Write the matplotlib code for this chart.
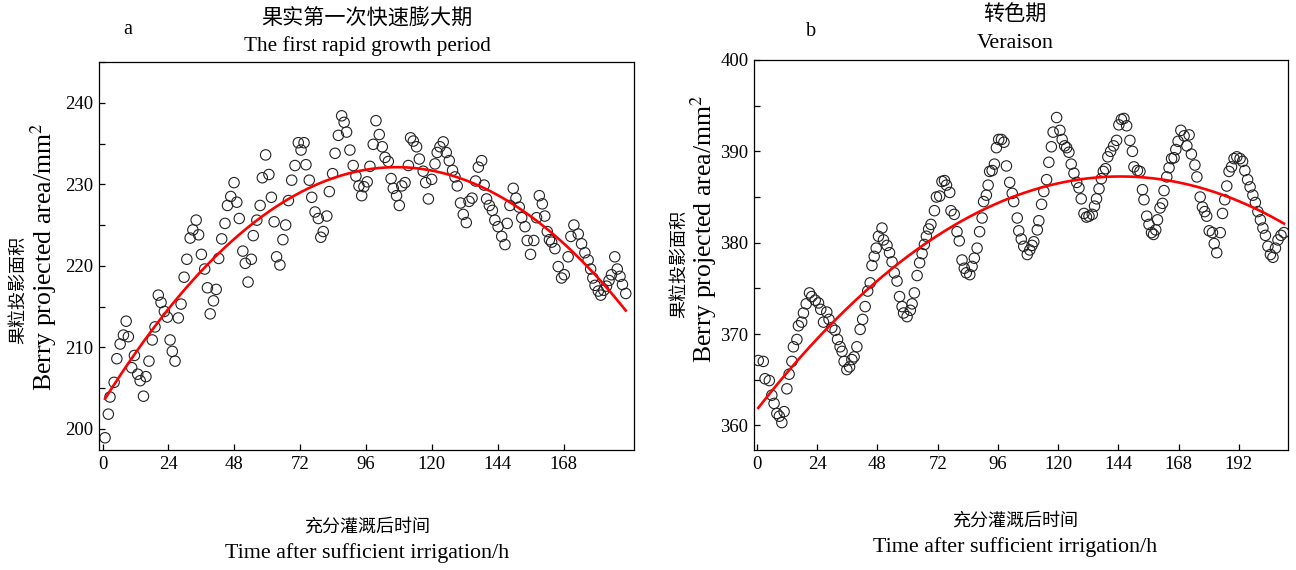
import numpy as np
import matplotlib
matplotlib.use("Agg")
import matplotlib.pyplot as plt
from matplotlib.ticker import MultipleLocator

plt.rcParams['font.family'] = ['Liberation Serif', 'Noto Sans CJK SC']
plt.rcParams['mathtext.fontset'] = 'stix'

# panel a: first rapid growth period
a_hours = [0.9, 2.1, 2.7, 4.2, 5.2, 6.4, 7.6, 8.6, 9.4, 10.6,
           11.6, 12.8, 13.7, 14.9, 15.8, 16.9, 18.1, 19.1, 20.3, 21.3,
           22.5, 23.6, 24.6, 25.4, 26.4, 27.6, 28.6, 29.7, 30.7, 31.9,
           32.9, 34.1, 35.0, 36.0, 37.2, 38.2, 39.2, 40.4, 41.4, 42.3,
           43.4, 44.6, 45.5, 46.7, 47.9, 48.9, 49.8, 51.1, 52.0, 53.0,
           54.2, 54.9, 56.2, 57.4, 58.2, 59.4, 60.6, 61.5, 62.5, 63.4,
           64.6, 65.7, 66.7, 67.7, 68.9, 70.1, 71.3, 72.3, 73.4, 74.1,
           75.3, 76.2, 77.4, 78.6, 79.5, 80.4, 81.7, 82.6, 83.8, 84.7,
           85.9, 87.1, 88.0, 88.9, 90.1, 91.3, 92.3, 93.4, 94.4, 95.2,
           96.4, 97.4, 98.6, 99.6, 100.8, 101.9, 102.9, 104.1, 105.1, 105.9,
           107.1, 108.1, 109.0, 110.2, 111.4, 112.2, 113.2, 114.4, 115.4, 116.8,
           117.7, 118.7, 119.9, 121.1, 121.9, 122.9, 124.1, 125.2, 126.3, 127.5,
           128.4, 129.2, 130.4, 131.4, 132.5, 133.5, 134.6, 135.9, 136.9, 138.1,
           139.0, 139.9, 140.9, 142.0, 142.9, 144.1, 145.4, 146.6, 147.4, 148.4,
           149.6, 150.6, 151.8, 152.7, 153.9, 154.7, 155.9, 157.1, 158.1, 159.1,
           160.2, 161.1, 162.0, 162.8, 163.6, 164.8, 166.0, 167.2, 168.2, 169.6,
           170.6, 171.7, 173.3, 174.5, 175.7, 176.9, 177.8, 178.6, 179.4, 180.6,
           181.5, 182.6, 183.6, 184.5, 185.4, 186.6, 187.5, 188.5, 189.4, 190.6]
a_area = [198.9, 201.8, 203.9, 205.7, 208.6, 210.4, 211.5, 213.2, 211.3, 207.5,
          209.0, 206.7, 205.9, 204.0, 206.4, 208.3, 210.9, 212.5, 216.4, 215.5,
          214.4, 213.7, 210.9, 209.5, 208.3, 213.6, 215.3, 218.6, 220.8, 223.4,
          224.4, 225.6, 223.8, 221.4, 219.6, 217.3, 214.1, 215.7, 217.1, 220.9,
          223.3, 225.2, 227.4, 228.5, 230.2, 227.8, 225.8, 221.8, 220.3, 218.0,
          220.8, 223.7, 225.6, 227.4, 230.8, 233.6, 231.2, 228.4, 225.4, 221.1,
          220.1, 223.2, 225.0, 228.0, 230.5, 232.3, 235.1, 234.2, 235.1, 232.4,
          230.5, 228.4, 226.6, 225.8, 223.5, 224.2, 226.1, 229.1, 231.3, 233.8,
          236.0, 238.4, 237.6, 236.4, 234.2, 232.3, 231.0, 229.8, 228.6, 229.7,
          230.3, 232.2, 234.9, 237.8, 236.1, 234.6, 233.3, 232.8, 230.7, 229.5,
          228.6, 227.4, 229.8, 230.2, 232.3, 235.7, 235.3, 234.6, 233.1, 231.6,
          230.2, 228.2, 230.6, 232.5, 233.9, 234.6, 235.2, 233.9, 232.9, 231.7,
          230.9, 229.8, 227.7, 226.3, 225.3, 227.9, 228.3, 230.4, 232.1, 232.9,
          229.9, 228.2, 227.4, 226.8, 225.6, 224.8, 223.6, 222.6, 225.2, 227.4,
          229.5, 228.3, 227.2, 225.9, 224.8, 223.1, 221.4, 223.1, 225.9, 228.6,
          227.6, 226.1, 224.2, 223.2, 222.9, 222.1, 219.9, 218.5, 218.9, 221.1,
          223.6, 225.0, 223.9, 222.7, 221.6, 220.7, 219.6, 218.5, 217.6, 216.9,
          216.4, 217.0, 217.5, 218.2, 218.9, 221.1, 219.6, 218.7, 217.7, 216.6]

# panel b: veraison
b_hours = [0.5, 2.5, 3.2, 4.9, 5.9, 6.8, 7.9, 8.9, 9.9, 10.8,
           11.9, 12.8, 13.9, 14.5, 15.9, 16.5, 17.8, 18.5, 19.6, 20.9,
           21.8, 23.2, 24.5, 25.4, 26.5, 27.8, 28.7, 29.8, 31.1, 32.1,
           33.1, 33.9, 34.7, 35.8, 36.9, 37.8, 38.7, 39.8, 41.1, 42.1,
           43.1, 44.1, 45.1, 45.8, 46.7, 47.5, 48.4, 49.8, 50.4, 51.8,
           52.8, 53.8, 54.7, 55.8, 56.8, 57.8, 58.4, 59.8, 61.1, 61.8,
           62.7, 63.8, 64.8, 65.8, 66.7, 67.5, 68.4, 69.3, 70.7, 71.5,
           72.8, 73.7, 74.7, 75.5, 76.8, 77.3, 78.6, 79.7, 80.6, 81.7,
           82.6, 83.4, 84.8, 85.7, 86.6, 87.7, 88.7, 89.7, 90.3, 91.4,
           92.1, 92.7, 93.7, 94.6, 95.4, 96.3, 97.4, 98.4, 99.4, 100.7,
           101.7, 102.3, 103.7, 104.3, 105.3, 106.3, 107.7, 108.7, 109.6, 110.3,
           111.7, 112.3, 113.4, 114.3, 115.4, 116.3, 117.3, 118.0, 119.4, 120.7,
           121.6, 122.6, 123.4, 124.3, 125.2, 126.3, 127.4, 128.3, 129.2, 130.3,
           131.3, 132.3, 133.6, 134.5, 135.3, 136.3, 137.2, 138.0, 138.9, 139.8,
           140.9, 142.1, 143.3, 144.2, 145.2, 146.2, 147.3, 148.6, 149.6, 150.2,
           151.6, 152.6, 153.6, 154.2, 155.3, 156.2, 157.2, 158.0, 158.9, 159.6,
           160.6, 161.6, 162.2, 163.3, 164.2, 165.2, 166.2, 166.9, 167.8, 168.9,
           170.2, 171.3, 172.2, 173.1, 174.5, 175.3, 176.6, 177.5, 178.4, 179.2,
           180.2, 181.5, 182.2, 183.2, 184.6, 185.5, 186.4, 187.2, 188.1, 189.1,
           190.1, 191.2, 192.5, 193.5, 194.4, 195.5, 196.5, 197.6, 198.6, 199.6,
           200.6, 201.6, 202.6, 203.6, 204.6, 205.6, 206.6, 207.6, 208.8, 210.0]
b_area = [367.1, 367.0, 365.1, 364.9, 363.3, 362.4, 361.3, 361.0, 360.3, 361.5,
          364.0, 365.6, 367.0, 368.6, 369.4, 370.9, 371.3, 372.3, 373.3, 374.5,
          374.1, 373.7, 373.4, 372.7, 371.3, 372.4, 371.6, 370.7, 370.4, 369.4,
          368.6, 368.1, 367.0, 366.1, 366.4, 367.2, 367.5, 368.6, 370.5, 371.6,
          373.0, 374.7, 375.6, 377.5, 378.5, 379.4, 380.7, 381.6, 380.3, 379.7,
          378.9, 377.9, 376.7, 375.8, 374.1, 373.0, 372.3, 371.9, 372.6, 373.3,
          374.5, 376.4, 377.8, 378.8, 379.8, 380.7, 381.5, 382.0, 383.5, 385.0,
          385.1, 386.7, 386.8, 386.3, 385.5, 383.5, 383.1, 381.2, 380.2, 378.1,
          377.2, 376.7, 376.5, 377.4, 378.3, 379.4, 381.2, 382.7, 384.5, 385.2,
          386.3, 387.8, 387.9, 388.6, 390.4, 391.3, 391.3, 391.0, 388.4, 386.6,
          385.4, 384.5, 382.7, 381.3, 380.4, 379.6, 378.7, 379.2, 379.7, 380.1,
          381.4, 382.4, 384.2, 385.6, 386.9, 388.8, 390.5, 392.1, 393.7, 392.3,
          391.3, 390.6, 390.4, 389.9, 388.6, 387.6, 386.6, 386.0, 384.8, 383.2,
          382.8, 382.9, 383.1, 384.0, 384.8, 385.9, 387.0, 387.8, 388.1, 389.4,
          390.0, 390.6, 391.2, 392.9, 393.5, 393.6, 392.8, 391.2, 390.0, 388.3,
          387.9, 387.8, 385.8, 384.7, 382.9, 382.0, 381.1, 380.9, 381.4, 382.5,
          383.8, 384.3, 385.7, 387.2, 388.2, 389.2, 389.3, 390.2, 391.1, 392.3,
          391.7, 390.6, 391.8, 389.7, 388.5, 387.2, 385.0, 383.9, 383.4, 382.9,
          381.3, 381.1, 379.9, 378.9, 381.1, 383.2, 384.7, 386.2, 387.8, 388.3,
          389.2, 389.4, 389.2, 388.9, 387.9, 386.9, 386.1, 385.2, 384.4, 383.4,
          382.5, 381.6, 380.8, 379.6, 378.7, 378.4, 379.4, 380.3, 380.8, 381.1]

W, H = 1296, 570
fig = plt.figure(figsize=(W / 100, H / 100), dpi=100)


def px_rect(x0, y0, x1, y1):
    return [x0 / W, 1 - y1 / H, (x1 - x0) / W, (y1 - y0) / H]


def panel(ax, hours, area, xlim, ylim, xticks):
    ax.scatter(hours, area, s=56, facecolors='none', edgecolors='#222222',
               linewidths=0.8, zorder=2)
    coef = np.polyfit(hours, area, 2)
    xs = np.linspace(min(hours), max(hours), 200)
    ax.plot(xs, np.polyval(coef, xs), color='#ff0000', lw=1.9, zorder=3)
    ax.set_xlim(*xlim)
    ax.set_ylim(*ylim)
    ax.set_xticks(xticks)
    ax.yaxis.set_major_locator(MultipleLocator(10))
    ax.yaxis.set_minor_locator(MultipleLocator(5))
    ax.tick_params(which='both', direction='in', length=4, width=0.9,
                   labelsize=13.5, pad=4)
    for s in ax.spines.values():
        s.set_linewidth(0.9)


ax1 = fig.add_axes(px_rect(99, 62, 634, 450))
panel(ax1, a_hours, a_area, (-1.3, 193.6), (197.4, 245.0), range(0, 169, 24))

ax2 = fig.add_axes(px_rect(754, 60, 1288, 450))
panel(ax2, b_hours, b_area, (-1.2, 211.6), (357.3, 400.0), range(0, 193, 24))

# titles and labels
fig.text(128 / W, 1 - 30 / H, 'a', ha='center', va='center', fontsize=14.5)
fig.text(367 / W, 1 - 18 / H, '果实第一次快速膨大期', ha='center', va='center', fontsize=15.2)
fig.text(367 / W, 1 - 46 / H, 'The first rapid growth period', ha='center', va='center', fontsize=15.3)
fig.text(811 / W, 1 - 31 / H, 'b', ha='center', va='center', fontsize=14.5)
fig.text(1015 / W, 1 - 16 / H, '转色期', ha='center', va='center', fontsize=15.2)
fig.text(1015 / W, 1 - 44 / H, 'Veraison', ha='center', va='center', fontsize=15.8)

fig.text(19 / W, 1 - 290 / H, '果粒投影面积', rotation=90, ha='center', va='center', fontsize=13)
fig.text(44 / W, 1 - 257 / H, 'Berry projected area/mm$^2$', rotation=90,
         ha='center', va='center', fontsize=18.5)
fig.text(680 / W, 1 - 264 / H, '果粒投影面积', rotation=90, ha='center', va='center', fontsize=13)
fig.text(704 / W, 1 - 229 / H, 'Berry projected area/mm$^2$', rotation=90,
         ha='center', va='center', fontsize=18.5)

fig.text(367 / W, 1 - 527 / H, '充分灌溉后时间', ha='center', va='center', fontsize=13)
fig.text(367 / W, 1 - 553 / H, 'Time after sufficient irrigation/h', ha='center', va='center', fontsize=15.8)
fig.text(1015 / W, 1 - 521 / H, '充分灌溉后时间', ha='center', va='center', fontsize=13)
fig.text(1015 / W, 1 - 547 / H, 'Time after sufficient irrigation/h', ha='center', va='center', fontsize=15.8)

fig.savefig('out.png', dpi=100)
